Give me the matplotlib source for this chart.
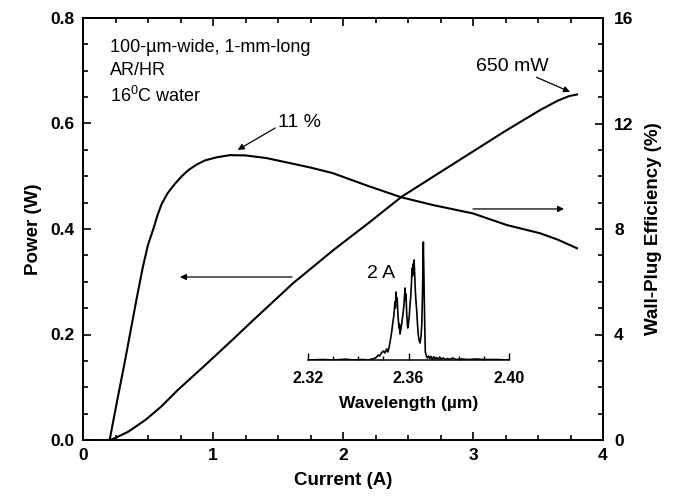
import matplotlib
matplotlib.use('Agg')
import matplotlib.pyplot as plt
from matplotlib.ticker import MultipleLocator

plt.rcParams['font.family'] = ['Liberation Sans', 'DejaVu Sans']
plt.rcParams['mathtext.fontset'] = 'custom'
plt.rcParams['mathtext.rm'] = 'Liberation Sans'

# L-I curve (power, W)
cur_p = [0.21, 0.25, 0.35, 0.48, 0.60, 0.73, 0.94, 1.15, 1.30, 1.615, 1.926, 2.20, 2.45, 2.75, 3.00, 3.25, 3.52, 3.65, 3.74, 3.80]
power = [0.0, 0.004, 0.016, 0.038, 0.063, 0.095, 0.142, 0.19, 0.225, 0.297, 0.36, 0.412, 0.461, 0.508, 0.547, 0.586, 0.626, 0.643, 0.652, 0.655]

# wall-plug efficiency (%)
cur_e = [0.205, 0.26, 0.323, 0.413, 0.46, 0.50, 0.541, 0.575, 0.605, 0.65, 0.708, 0.76, 0.81, 0.87, 0.938, 1.03, 1.13, 1.25,
         1.41, 1.59, 1.75, 1.92, 2.20, 2.45, 2.70, 3.00, 3.26, 3.515, 3.65, 3.80]
eff = [0.0, 1.42, 3.0, 5.37, 6.55, 7.4, 8.0, 8.55, 8.95, 9.35, 9.72, 10.0, 10.23, 10.43, 10.6, 10.72, 10.8, 10.79,
       10.69, 10.5, 10.33, 10.12, 9.62, 9.2, 8.9, 8.59, 8.15, 7.84, 7.6, 7.27]

# emission spectrum at 2 A (arb. units)
wl = [2.320, 2.326, 2.330, 2.335, 2.338, 2.342, 2.344, 2.3455, 2.3465, 2.3473, 2.3480, 2.3485,
      2.3492, 2.3500, 2.3506, 2.3513, 2.3518, 2.3523, 2.3528, 2.3533, 2.3538, 2.3542, 2.3546, 2.3548,
      2.3550, 2.3552, 2.3555, 2.3558, 2.3562, 2.3564, 2.3566, 2.3569, 2.3573, 2.3576, 2.3579, 2.3582,
      2.3584, 2.3586, 2.3588, 2.3590, 2.3593, 2.3595, 2.3597, 2.3600, 2.3603, 2.3606, 2.3609, 2.3612,
      2.3614, 2.3616, 2.3618, 2.3620, 2.3622, 2.3624, 2.3627, 2.3630, 2.3633, 2.3636, 2.3639, 2.3642,
      2.3646, 2.3650, 2.3653, 2.3656, 2.3659, 2.3661, 2.3663, 2.3665, 2.3667, 2.3671, 2.3675, 2.3680,
      2.3685, 2.3690, 2.3695, 2.3700, 2.3706, 2.3712, 2.3718, 2.3724, 2.3730, 2.3738, 2.3746, 2.3755,
      2.3765, 2.3775, 2.3790, 2.3810, 2.3840, 2.3870, 2.3900, 2.3950, 2.4000]
spec = [0, 0.5, 0, 0.8, 0, 0.5, 0, 1, 1.5, 3, 5, 4,
        7, 9, 7, 11, 8, 13, 20, 28, 38, 45, 58, 52,
        68, 60, 62, 45, 32, 36, 26, 30, 36, 42, 48, 55,
        64, 72, 60, 66, 46, 38, 32, 37, 44, 55, 64, 78,
        92, 84, 96, 86, 100, 90, 70, 58, 48, 35, 25, 20,
        17, 24, 36, 70, 118, 90, 58, 30, 8, 4, 2, 4,
        1.5, 3.5, 1, 3, 1.5, 2.5, 0.5, 3, 1, 2, 0.5, 1.5,
        0.5, 2, 0.5, 1, 0.5, 1, 0.5, 0.5, 0]

fig = plt.figure(figsize=(6.79, 5.0), dpi=100)
ax = fig.add_axes([83/679, 60/500, 520/679, 422/500])
ax2 = ax.twinx()

ax.plot(cur_p, power, color='k', lw=1.5)
ax2.plot(cur_e, eff, color='k', lw=1.5)

ax.set_xlim(0, 4)
ax.set_ylim(0, 0.8)
ax2.set_ylim(0, 16)
ax.xaxis.set_major_locator(MultipleLocator(1))
ax.xaxis.set_minor_locator(MultipleLocator(0.25))
ax.yaxis.set_major_locator(MultipleLocator(0.2))
ax.yaxis.set_minor_locator(MultipleLocator(0.05))
ax2.yaxis.set_major_locator(MultipleLocator(4))
ax2.yaxis.set_minor_locator(MultipleLocator(1))
ax.yaxis.set_major_formatter(plt.FormatStrFormatter('%.1f'))

for a in (ax, ax2):
    for s in a.spines.values():
        s.set_linewidth(1.3)
ax.tick_params(which='both', direction='in', top=True, right=False, width=1.2)
ax.tick_params(which='major', length=6, labelsize=12.5, pad=6)
ax.tick_params(which='minor', length=3.5)
ax2.tick_params(which='both', direction='in', width=1.2)
ax2.tick_params(which='major', length=6, labelsize=12.5, pad=8)
ax2.tick_params(which='minor', length=3.5)
for lab in ax.get_xticklabels() + ax.get_yticklabels() + ax2.get_yticklabels():
    lab.set_fontweight('bold')

ax.set_xlabel('Current (A)', fontsize=13.5, fontweight='bold', labelpad=6)
ax.set_ylabel('Power (W)', fontsize=13.5, fontweight='bold', labelpad=6)
ax2.set_ylabel('Wall-Plug Efficiency (%)', fontsize=13.5, fontweight='bold', labelpad=8)

# text and arrows
ax.text(0.208, 0.745, '100-\u00b5m-wide, 1-mm-long', fontsize=13, va='center')
ax.text(0.208, 0.701, 'AR/HR', fontsize=13, va='center')
ax.text(0.208, 0.652, r'16$^{\rm 0}$C water', fontsize=13, va='center')

arw = dict(arrowstyle='-|>', color='k', lw=0.9, mutation_scale=9, shrinkA=0, shrinkB=0)
ax.annotate('11 %', xy=(1.19, 0.55), xytext=(1.5, 0.601), fontsize=14, va='center', ha='left',
            arrowprops=dict(arw, relpos=(0, 0.3)))
ax.annotate('650 mW', xy=(3.746, 0.660), xytext=(3.3, 0.709), fontsize=14, va='center', ha='center',
            arrowprops=dict(arw, relpos=(0.75, 0)))
ax.annotate('', xy=(0.746, 0.309), xytext=(1.608, 0.309), arrowprops=arw)
ax.annotate('', xy=(3.70, 0.438), xytext=(3.0, 0.438), arrowprops=arw)

# inset spectrum
axi = fig.add_axes([308/679, 140/500, 201/679, 120/500])
axi.patch.set_alpha(0)
axi.plot(wl, spec, color='k', lw=1.2)
axi.set_xlim(2.32, 2.40)
axi.set_ylim(0, 120)
for s in ('left', 'right', 'top'):
    axi.spines[s].set_visible(False)
axi.spines['bottom'].set_linewidth(1.1)
axi.set_yticks([])
axi.xaxis.set_major_locator(MultipleLocator(0.04))
axi.xaxis.set_minor_locator(MultipleLocator(0.01))
axi.xaxis.set_major_formatter(plt.FormatStrFormatter('%.2f'))
axi.tick_params(which='both', direction='in', width=1)
axi.tick_params(which='major', length=5, labelsize=11.5, pad=8)
axi.tick_params(which='minor', length=3)
for lab in axi.get_xticklabels():
    lab.set_fontweight('bold')
axi.set_xlabel('Wavelength (\u00b5m)', fontsize=12.5, fontweight='bold', labelpad=7)
axi.text(2.3435, 87, '2 A', fontsize=14, va='center', ha='left')

fig.savefig('out.png', dpi=100)
